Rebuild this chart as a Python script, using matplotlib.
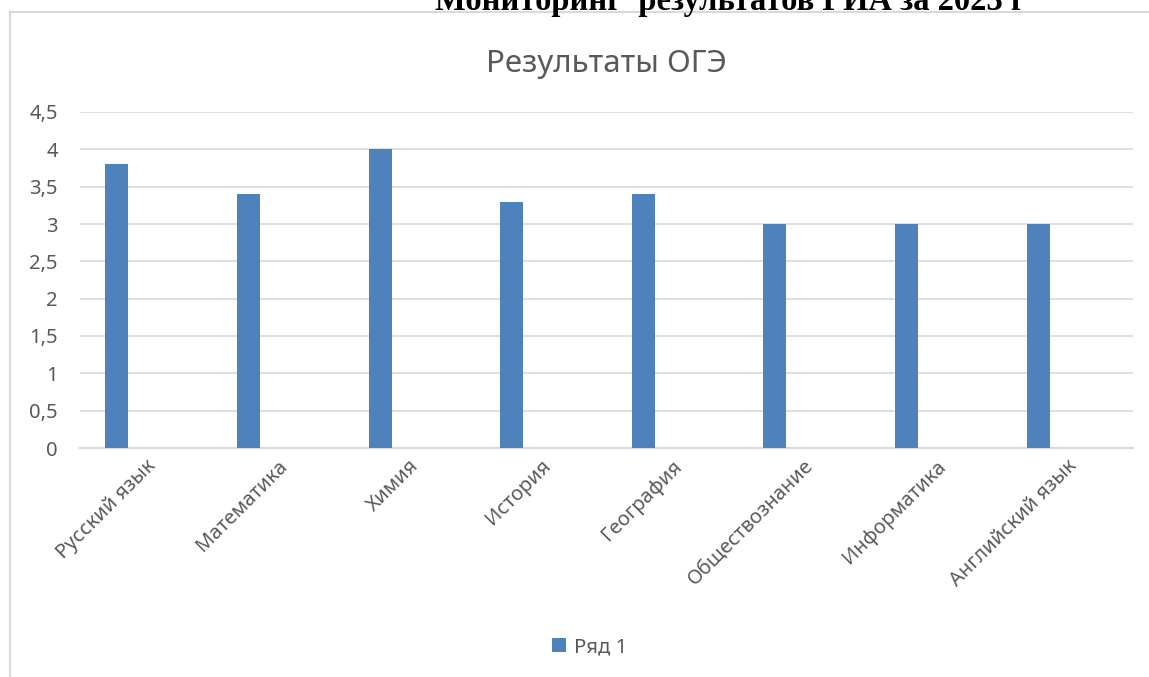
import numpy as np
import matplotlib.pyplot as plt
from matplotlib.lines import Line2D

plt.rcParams['font.family'] = ['Noto Sans', 'DejaVu Sans']

# данные
subjects = ["Русский язык", "Математика", "Химия", "История", "География",
            "Обществознание", "Информатика", "Английский язык"]
scores = [3.8, 3.4, 4.0, 3.3, 3.4, 3.0, 3.0, 3.0]
series_name = "Ряд 1"
chart_title = "Результаты ОГЭ"
page_heading = "Мониторинг  результатов ГИА за 2023 г"

W, H = 1149, 677
fig = plt.figure(figsize=(W / 100, H / 100), dpi=100)

# рамка диаграммы (обрезана справа и снизу)
grey = "#d9d9d9"
fig.add_artist(Line2D([10 / W, 1.0], [1 - 12 / H, 1 - 12 / H], color=grey, lw=1.5))
fig.add_artist(Line2D([10 / W, 10 / W], [1 - 12 / H, 0.0], color=grey, lw=1.5))

# заголовок страницы, срезанный сверху
fig.text(730 / W, 1 - 10 / H, page_heading, ha="center", va="baseline",
         fontsize=23.5, fontweight="bold", family=["Liberation Serif"], color="black")

ax = fig.add_axes([80 / W, 1 - 448 / H, (1133 - 80) / W, (448 - 112) / H])
x = np.arange(len(subjects))
ax.bar(x - 0.22, scores, width=0.175, color="#4f81bd", label=series_name, zorder=3)

ax.set_xlim(-0.5, len(subjects) - 0.5)
ax.set_ylim(0, 4.5)
ax.set_yticks(np.arange(0, 4.51, 0.5))
ax.set_yticklabels([f"{v:g}".replace(".", ",") for v in np.arange(0, 4.51, 0.5)])
ax.yaxis.grid(True, color=grey, lw=1.2, zorder=0)
for s in ["top", "right", "left"]:
    ax.spines[s].set_visible(False)
ax.spines["bottom"].set_color(grey)
ax.spines["bottom"].set_linewidth(1.5)
ax.tick_params(axis="both", length=0, colors="#595959", labelsize=14.5)
ax.tick_params(axis="y", pad=16)
ax.set_xticks(x)
ax.set_xticklabels(subjects, rotation=45, ha="right", rotation_mode="anchor")
ax.tick_params(axis="x", pad=6)

ax.set_title(chart_title, fontsize=22.5, color="#595959", pad=29)

fig.legend(loc="center", bbox_to_anchor=(590 / W, 1 - 647 / H), frameon=False,
           fontsize=14.5, labelcolor="#595959", handlelength=0.7, handleheight=0.7,
           handletextpad=0.4)

fig.savefig("out.png", dpi=100)
